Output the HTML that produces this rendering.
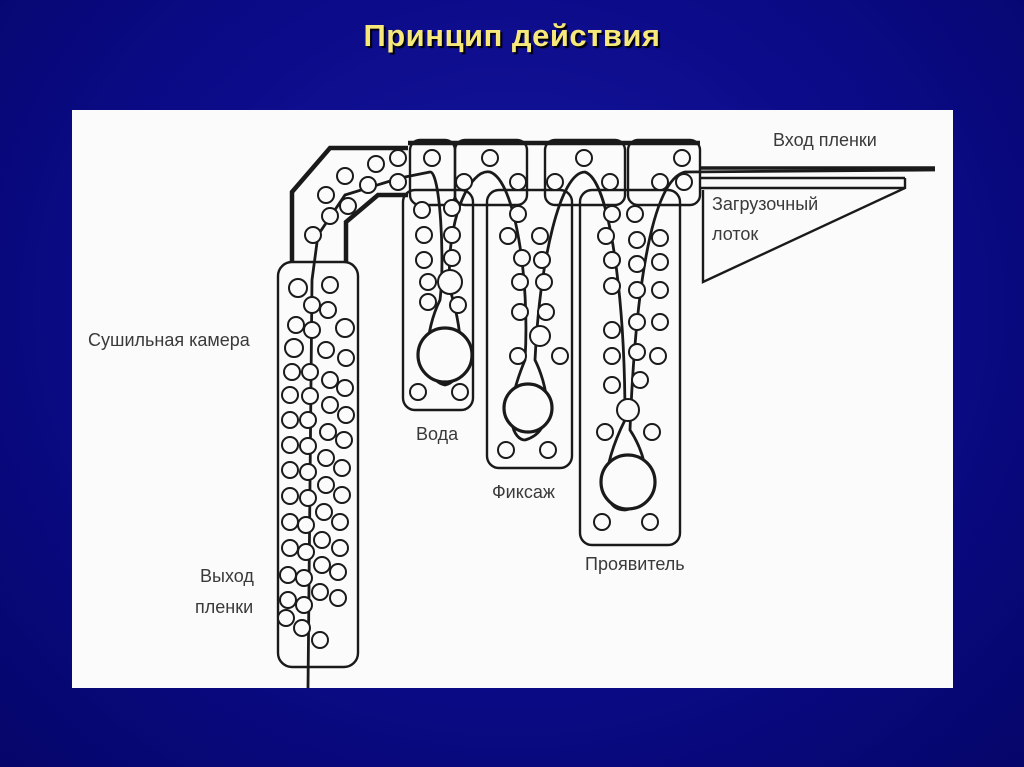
<!DOCTYPE html>
<html><head><meta charset="utf-8"><style>
html,body{margin:0;padding:0}
body{width:1024px;height:767px;overflow:hidden;background:radial-gradient(ellipse at 50% 40%,#1616a0 0%,#0b0b88 55%,#05056a 100%);position:relative;font-family:"Liberation Sans",sans-serif}
.t{position:absolute;left:0;width:1024px;top:18px;text-align:center;color:#f6e87a;font-weight:900;font-size:31px;text-shadow:2px 2px 1px #000;letter-spacing:0.5px}
.img{position:absolute;left:72px;top:110px;width:881px;height:578px;background:#fbfbfb}
</style></head><body>
<div class="t">Принцип действия</div>
<div class="img"></div>
<svg width="1024" height="767" style="position:absolute;left:0;top:0" font-family="Liberation Sans, sans-serif" fill="none" stroke="#1a1a1a" stroke-width="2.4">
<rect x="278" y="262" width="80" height="405" rx="14"/>
<polyline points="292,262 292,192 330,148 408,148" stroke-width="4.5"/>
<polyline points="346,262 346,222 378,195 408,195" stroke-width="4.5"/>
<rect x="410" y="140" width="45" height="65" rx="10"/>
<rect x="455" y="140" width="72" height="65" rx="10"/>
<rect x="545" y="140" width="80" height="65" rx="10"/>
<rect x="628" y="140" width="72" height="65" rx="10"/>
<line x1="408" y1="143" x2="700" y2="143" stroke-width="4.5"/>
<rect x="403" y="190" width="70" height="220" rx="12"/>
<rect x="487" y="190" width="85" height="278" rx="12"/>
<rect x="580" y="190" width="100" height="355" rx="12"/>
<line x1="700" y1="168" x2="935" y2="168" stroke-width="3.5"/>
<line x1="700" y1="178" x2="905" y2="178"/>
<line x1="700" y1="188" x2="905" y2="188"/>
<polyline points="905,178 905,188 703,282 703,190"/>
<path d="M308 688 L312 280 L318 235 L345 195 L400 178 L430 172 C440 170 445 260 440 300 C425 330 420 380 445 385 C470 380 460 320 450 290 C445 220 470 168 490 172 C515 180 530 280 525 360 C500 420 515 440 525 440 C560 430 545 380 535 360 C540 260 560 172 585 172 C610 180 625 300 625 420 C600 470 600 510 625 510 C655 505 650 460 630 430 C635 300 650 180 685 172 L935 170" stroke-width="2.8"/>
<g stroke-width="2" fill="#fbfbfb">
<circle cx="298" cy="288" r="9"/><circle cx="330" cy="285" r="8"/><circle cx="312" cy="305" r="8"/><circle cx="296" cy="325" r="8"/><circle cx="328" cy="310" r="8"/><circle cx="345" cy="328" r="9"/>
<circle cx="294" cy="348" r="9"/><circle cx="312" cy="330" r="8"/><circle cx="326" cy="350" r="8"/><circle cx="346" cy="358" r="8"/>
<circle cx="292" cy="372" r="8"/><circle cx="310" cy="372" r="8"/><circle cx="330" cy="380" r="8"/><circle cx="345" cy="388" r="8"/>
<circle cx="290" cy="395" r="8"/><circle cx="310" cy="396" r="8"/><circle cx="330" cy="405" r="8"/><circle cx="346" cy="415" r="8"/>
<circle cx="290" cy="420" r="8"/><circle cx="308" cy="420" r="8"/><circle cx="328" cy="432" r="8"/><circle cx="344" cy="440" r="8"/>
<circle cx="290" cy="445" r="8"/><circle cx="308" cy="446" r="8"/><circle cx="326" cy="458" r="8"/><circle cx="342" cy="468" r="8"/>
<circle cx="290" cy="470" r="8"/><circle cx="308" cy="472" r="8"/><circle cx="326" cy="485" r="8"/><circle cx="342" cy="495" r="8"/>
<circle cx="290" cy="496" r="8"/><circle cx="308" cy="498" r="8"/><circle cx="324" cy="512" r="8"/><circle cx="340" cy="522" r="8"/>
<circle cx="290" cy="522" r="8"/><circle cx="306" cy="525" r="8"/><circle cx="322" cy="540" r="8"/><circle cx="340" cy="548" r="8"/>
<circle cx="290" cy="548" r="8"/><circle cx="306" cy="552" r="8"/><circle cx="322" cy="565" r="8"/><circle cx="338" cy="572" r="8"/>
<circle cx="288" cy="575" r="8"/><circle cx="304" cy="578" r="8"/><circle cx="320" cy="592" r="8"/><circle cx="338" cy="598" r="8"/>
<circle cx="288" cy="600" r="8"/><circle cx="304" cy="605" r="8"/><circle cx="286" cy="618" r="8"/><circle cx="302" cy="628" r="8"/><circle cx="320" cy="640" r="8"/>
<circle cx="313" cy="235" r="8"/><circle cx="330" cy="216" r="8"/><circle cx="348" cy="206" r="8"/><circle cx="326" cy="195" r="8"/><circle cx="345" cy="176" r="8"/><circle cx="368" cy="185" r="8"/><circle cx="376" cy="164" r="8"/><circle cx="398" cy="158" r="8"/><circle cx="398" cy="182" r="8"/>
<circle cx="432" cy="158" r="8"/><circle cx="490" cy="158" r="8"/><circle cx="464" cy="182" r="8"/><circle cx="518" cy="182" r="8"/><circle cx="555" cy="182" r="8"/><circle cx="584" cy="158" r="8"/><circle cx="610" cy="182" r="8"/><circle cx="660" cy="182" r="8"/><circle cx="682" cy="158" r="8"/><circle cx="684" cy="182" r="8"/>
<circle cx="422" cy="210" r="8"/><circle cx="452" cy="208" r="8"/><circle cx="424" cy="235" r="8"/><circle cx="452" cy="235" r="8"/><circle cx="424" cy="260" r="8"/><circle cx="452" cy="258" r="8"/><circle cx="428" cy="282" r="8"/><circle cx="450" cy="282" r="12"/><circle cx="428" cy="302" r="8"/><circle cx="458" cy="305" r="8"/>
<circle cx="445" cy="355" r="27" stroke-width="3.2"/><circle cx="418" cy="392" r="8"/><circle cx="460" cy="392" r="8"/>
<circle cx="518" cy="214" r="8"/><circle cx="508" cy="236" r="8"/><circle cx="540" cy="236" r="8"/><circle cx="522" cy="258" r="8"/><circle cx="542" cy="260" r="8"/><circle cx="520" cy="282" r="8"/><circle cx="544" cy="282" r="8"/><circle cx="520" cy="312" r="8"/><circle cx="546" cy="312" r="8"/><circle cx="540" cy="336" r="10"/><circle cx="518" cy="356" r="8"/><circle cx="560" cy="356" r="8"/>
<circle cx="528" cy="408" r="24" stroke-width="3.2"/><circle cx="506" cy="450" r="8"/><circle cx="548" cy="450" r="8"/>
<circle cx="612" cy="214" r="8"/><circle cx="635" cy="214" r="8"/><circle cx="606" cy="236" r="8"/><circle cx="637" cy="240" r="8"/><circle cx="660" cy="238" r="8"/><circle cx="612" cy="260" r="8"/><circle cx="637" cy="264" r="8"/><circle cx="660" cy="262" r="8"/><circle cx="612" cy="286" r="8"/><circle cx="637" cy="290" r="8"/><circle cx="660" cy="290" r="8"/><circle cx="612" cy="330" r="8"/><circle cx="637" cy="322" r="8"/><circle cx="660" cy="322" r="8"/><circle cx="612" cy="356" r="8"/><circle cx="637" cy="352" r="8"/><circle cx="658" cy="356" r="8"/><circle cx="612" cy="385" r="8"/><circle cx="640" cy="380" r="8"/><circle cx="628" cy="410" r="11"/><circle cx="605" cy="432" r="8"/><circle cx="652" cy="432" r="8"/>
<circle cx="628" cy="482" r="27" stroke-width="3.2"/><circle cx="602" cy="522" r="8"/><circle cx="650" cy="522" r="8"/>
</g>
<g fill="#3a3a3a" stroke="none" font-size="18">
<text x="773" y="146">Вход пленки</text>
<text x="712" y="210">Загрузочный</text>
<text x="712" y="240">лоток</text>
<text x="88" y="346">Сушильная камера</text>
<text x="416" y="440">Вода</text>
<text x="492" y="498">Фиксаж</text>
<text x="585" y="570">Проявитель</text>
<text x="200" y="582">Выход</text>
<text x="195" y="613">пленки</text>
</g>
</svg>
</body></html>
